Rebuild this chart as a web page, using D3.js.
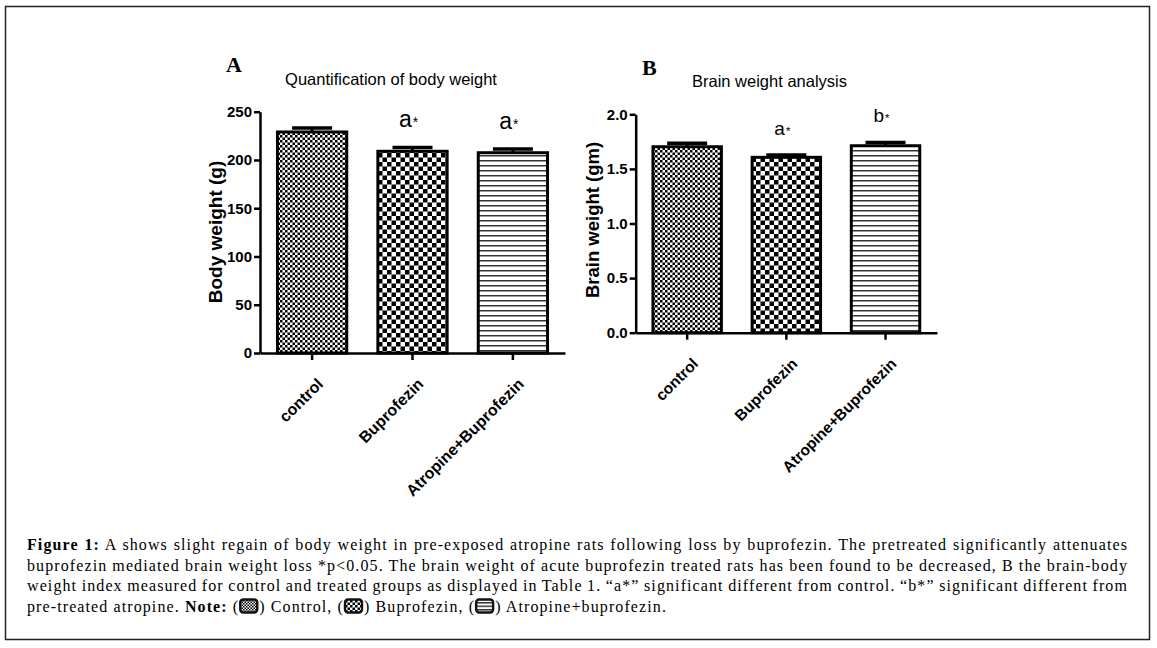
<!DOCTYPE html>
<html>
<head>
<meta charset="utf-8">
<script src="https://cdn.jsdelivr.net/npm/d3@7"></script>
<style>
  body { margin: 0; background: #fff; }
  svg { display: block; }
  .axis path, .axis line { stroke: #000; stroke-width: 2.5; }
  .axis text { font-family: "Liberation Sans", Arial, sans-serif; font-weight: bold; fill: #000; }
</style>
</head>
<body>
<div class="stage"></div>
<script>
var groups = ["control", "Buprofezin", "Atropine+Buprofezin"];
var patterns = ["pCtrl", "pBup", "pAtro"];

var bodyMean = [229, 209, 207.5];
var bodySem = [4, 4, 3.8];
var bodyMarks = ["", "a", "a"];
var bodyTicks = [0, 50, 100, 150, 200, 250];

var brainMean = [1.703, 1.606, 1.712];
var brainSem = [0.033, 0.022, 0.03];
var brainMarks = ["", "a", "b"];
var brainTicks = [0, 0.5, 1.0, 1.5, 2.0];

var captionLines = [
  [["Figure 1:", true], [" A shows slight regain of body weight in pre-exposed atropine rats following loss by buprofezin. The pretreated significantly attenuates", false]],
  [["buprofezin mediated brain weight loss *p<0.05. The brain weight of acute buprofezin treated rats has been found to be decreased, B the brain-body", false]],
  [["weight index measured for control and treated groups as displayed in Table 1. \u201ca*\u201d significant different from control. \u201cb*\u201d significant different from", false]]
];
var noteParts = [
  {t: "pre-treated atropine. "}, {t: "Note:", b: true}, {t: " ("}, {icon: "pCtrlS"},
  {t: ") Control, ("}, {icon: "pBupS"}, {t: ") Buprofezin, ("}, {icon: "pAtroS"},
  {t: ") Atropine+buprofezin."}
];

var W = 1157, H = 648;
var svg = d3.select(".stage").append("svg").attr("width", W).attr("height", H);
var defs = svg.append("defs");

function checker(id, c) {
  var p = defs.append("pattern").attr("id", id).attr("patternUnits", "userSpaceOnUse")
    .attr("width", c * 2).attr("height", c * 2);
  p.append("rect").attr("width", c * 2).attr("height", c * 2).attr("fill", "#fff");
  p.append("rect").attr("width", c).attr("height", c).attr("fill", "#000");
  p.append("rect").attr("x", c).attr("y", c).attr("width", c).attr("height", c).attr("fill", "#000");
}
function stripes(id, gap, th) {
  var p = defs.append("pattern").attr("id", id).attr("patternUnits", "userSpaceOnUse")
    .attr("width", 4).attr("height", gap);
  p.append("rect").attr("width", 4).attr("height", gap).attr("fill", "#fff");
  p.append("rect").attr("width", 4).attr("height", th).attr("fill", "#333");
}
checker("pCtrl", 2.5);
checker("pBup", 4.5);
stripes("pAtro", 5, 1.5);
checker("pCtrlS", 1.5);
checker("pBupS", 2.5);
stripes("pAtroS", 3.5, 1.5);

// outer frame
svg.append("rect").attr("x", 5.5).attr("y", 6.5).attr("width", 1144).attr("height", 633)
  .attr("fill", "none").attr("stroke", "#222").attr("stroke-width", 1.5);

function panel(cfg) {
  var x = d3.scaleBand().domain(groups).range(cfg.xr).paddingInner(0.31).paddingOuter(0.174);
  var y = d3.scaleLinear().domain([0, cfg.ticks[cfg.ticks.length - 1]]).range(cfg.yr);
  var g = svg.append("g");

  g.append("text").attr("x", cfg.letter[0]).attr("y", cfg.letter[1]).text(cfg.letterText)
    .attr("font-family", "Liberation Serif, serif").attr("font-weight", "bold").attr("font-size", 22);
  g.append("text").attr("x", cfg.title[0]).attr("y", cfg.title[1]).attr("text-anchor", "middle")
    .attr("font-family", "Liberation Sans, Arial, sans-serif").attr("font-size", 16.5).text(cfg.titleText);

  var bars = g.selectAll(".bar").data(groups).enter().append("g");
  bars.append("line")
    .attr("x1", function(d) { return x(d) + x.bandwidth() / 2; })
    .attr("x2", function(d) { return x(d) + x.bandwidth() / 2; })
    .attr("y1", function(d, i) { return y(cfg.mean[i]); })
    .attr("y2", function(d, i) { return y(cfg.mean[i] + cfg.sem[i]); })
    .attr("stroke", "#000").attr("stroke-width", 3);
  bars.append("line")
    .attr("x1", function(d) { return x(d) + x.bandwidth() / 2 - 20; })
    .attr("x2", function(d) { return x(d) + x.bandwidth() / 2 + 20; })
    .attr("y1", function(d, i) { return y(cfg.mean[i] + cfg.sem[i]); })
    .attr("y2", function(d, i) { return y(cfg.mean[i] + cfg.sem[i]); })
    .attr("stroke", "#000").attr("stroke-width", 3.5);
  bars.append("rect")
    .attr("x", function(d) { return x(d); })
    .attr("width", x.bandwidth())
    .attr("y", function(d, i) { return y(cfg.mean[i]); })
    .attr("height", function(d, i) { return y(0) - y(cfg.mean[i]); })
    .attr("fill", function(d, i) { return "url(#" + patterns[i] + ")"; })
    .attr("stroke", "#000").attr("stroke-width", 3);

  // significance marks
  var mk = bars.filter(function(d, i) { return cfg.marks[i]; }).append("text")
    .attr("x", function(d) { return x(d) + x.bandwidth() / 2 - 4; })
    .attr("y", function(d) { var j = groups.indexOf(d); return y(cfg.mean[j] + cfg.sem[j]) - 20; })
    .attr("text-anchor", "middle")
    .attr("font-family", "Liberation Sans, Arial, sans-serif");
  mk.append("tspan").attr("font-size", cfg.markSize).text(function(d) { return cfg.marks[groups.indexOf(d)]; });
  mk.append("tspan").attr("font-size", cfg.markSize * 0.6).attr("dx", 1).attr("dy", 0).text("*");

  var ya = g.append("g").attr("class", "axis").attr("transform", "translate(" + cfg.xr[0] + ",0)")
    .call(d3.axisLeft(y).tickValues(cfg.ticks).tickFormat(cfg.fmt).tickSize(6).tickSizeOuter(0).tickPadding(2));
  ya.selectAll("text").attr("font-size", 15);

  var xa = g.append("g").attr("class", "axis").attr("transform", "translate(0," + cfg.yr[0] + ")")
    .call(d3.axisBottom(x).tickSize(7).tickSizeOuter(0));
  xa.selectAll("text")
    .attr("font-size", cfg.xlabSize)
    .attr("text-anchor", "end")
    .attr("dy", 0)
    .attr("y", 0)
    .attr("transform", "translate(12,32) rotate(-45)");

  g.append("text")
    .attr("transform", "translate(" + cfg.ylab[0] + "," + cfg.ylab[1] + ") rotate(-90)")
    .attr("text-anchor", "middle")
    .attr("font-family", "Liberation Sans, Arial, sans-serif").attr("font-weight", "bold")
    .attr("font-size", cfg.ylabSize).text(cfg.ylabText);
}

panel({
  xr: [260, 565], yr: [353, 111.7], ticks: bodyTicks, fmt: d3.format("d"),
  mean: bodyMean, sem: bodySem, marks: bodyMarks, markSize: 23,
  letter: [226, 72], letterText: "A", title: [391, 85], titleText: "Quantification of body weight",
  ylab: [222, 232], ylabText: "Body weight (g)", ylabSize: 19, xlabSize: 16
});
panel({
  xr: [635.7, 937], yr: [332.7, 114.3], ticks: brainTicks, fmt: d3.format(".1f"),
  mean: brainMean, sem: brainSem, marks: brainMarks, markSize: 19,
  letter: [642, 75], letterText: "B", title: [769.5, 87], titleText: "Brain weight analysis",
  ylab: [599, 220], ylabText: "Brain weight (gm)", ylabSize: 18.5, xlabSize: 15.5
});

// caption
var capX = 27, capW = 1101, capY = [550, 570.5, 591, 611.5], capSize = 16, capLs = 1.1;
captionLines.forEach(function(parts, li) {
  var t = svg.append("text").attr("x", capX).attr("y", capY[li])
    .attr("font-family", "Liberation Serif, serif").attr("font-size", capSize)
    .attr("letter-spacing", capLs).style("white-space", "pre");
  parts.forEach(function(p) {
    t.append("tspan").attr("font-weight", p[1] ? "bold" : null).text(p[0]);
  });
  var w = t.node().getComputedTextLength();
  var n = parts.map(function(p) { return p[0]; }).join("").split(" ").length - 1;
  t.attr("word-spacing", (capW - w) / n);
});

var cx = capX;
noteParts.forEach(function(p) {
  if (p.icon) {
    svg.append("rect").attr("x", cx + 1).attr("y", capY[3] - 12).attr("width", 17).attr("height", 13)
      .attr("rx", 3).attr("fill", "url(#" + p.icon + ")").attr("stroke", "#111").attr("stroke-width", 2.4);
    cx += 20;
  } else {
    var t = svg.append("text").attr("x", cx).attr("y", capY[3])
      .attr("font-family", "Liberation Serif, serif").attr("font-size", capSize)
      .attr("letter-spacing", capLs)
      .attr("font-weight", p.b ? "bold" : null).style("white-space", "pre").text(p.t);
    cx += t.node().getComputedTextLength();
  }
});
</script>
</body>
</html>
